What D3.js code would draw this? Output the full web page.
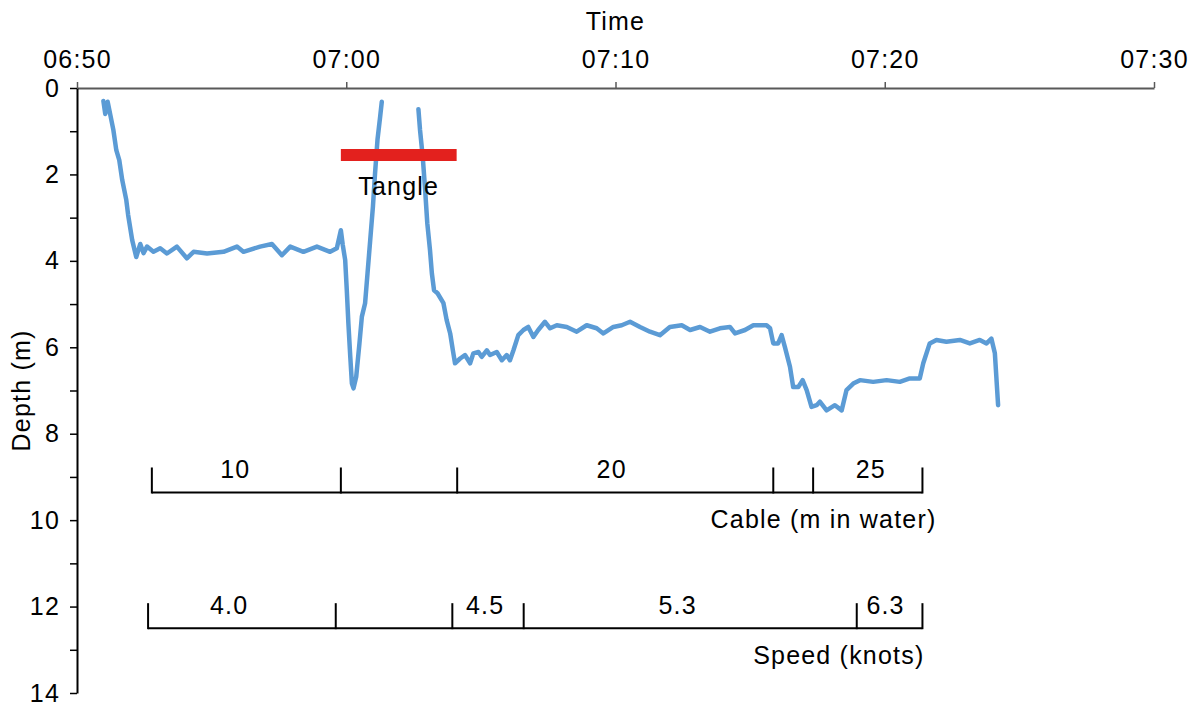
<!DOCTYPE html>
<html>
<head>
<meta charset="utf-8">
<script src="https://cdn.jsdelivr.net/npm/d3@7"></script>
<style>
  body { margin: 0; background: #fff; }
  text { font-family: "Liberation Sans", Arial, sans-serif; font-size: 25px; fill: #000; letter-spacing: 1.2px; }
</style>
</head>
<body>
<script>
// start of the record, all times below are minutes after this
const startTime = new Date(2020, 0, 1, 6, 50);
const timeTicks = [0, 10, 20, 30, 40];

// depth trace (minutes after 06:50, depth in m); null marks the gap at the surface
const traceMinutes = [
  0.98, 1.05, 1.14, 1.35, 1.46, 1.57, 1.68, 1.83, 1.90, 2.05, 2.20, 2.35, 2.47, 2.60, 2.84,
  3.09, 3.34, 3.71, 4.08, 4.33, 4.83, 5.44, 5.94, 6.18, 6.80, 7.24, 7.61, 7.92, 8.41, 8.91,
  9.40, 9.65, 9.80, 9.87, 9.96, 10.02, 10.08, 10.15, 10.21, 10.27, 10.37, 10.49, 10.58, 10.70,
  10.79, 10.89, 10.99, 11.07, 11.16, 11.26, 11.32, 12.0,
  12.68, 12.74, 12.84, 12.93, 13.01, 13.11, 13.18, 13.26, 13.39, 13.61, 13.73, 13.86, 13.96,
  14.04, 14.23, 14.41, 14.60, 14.72, 14.91, 15.03, 15.22, 15.34, 15.59, 15.78, 15.96, 16.08,
  16.21, 16.39, 16.58, 16.76, 16.95, 17.13, 17.38, 17.57, 17.82, 18.19, 18.56, 18.93, 19.30,
  19.55, 19.92, 20.23, 20.54, 20.91, 21.28, 21.65, 22.02, 22.46, 22.77, 23.14, 23.51, 23.88,
  24.25, 24.44, 24.81, 25.12, 25.61, 25.74, 25.86, 26.04, 26.17, 26.29, 26.48, 26.60, 26.79,
  26.95, 27.10, 27.28, 27.47, 27.59, 27.84, 28.15, 28.40, 28.58, 28.83, 29.08, 29.57, 30.07,
  30.56, 30.93, 31.30, 31.43, 31.67, 31.92, 32.29, 32.79, 33.16, 33.53, 33.78, 33.96, 34.09,
  34.21
];
const traceDepth = [
  0.30, 0.60, 0.32, 0.97, 1.44, 1.67, 2.13, 2.59, 2.94, 3.52, 3.91, 3.61, 3.82, 3.67, 3.79,
  3.71, 3.83, 3.67, 3.94, 3.79, 3.83, 3.79, 3.67, 3.79, 3.67, 3.61, 3.87, 3.67, 3.79, 3.67,
  3.79, 3.71, 3.29, 3.63, 3.98, 4.68, 5.45, 6.22, 6.84, 6.95, 6.68, 5.91, 5.29, 4.98,
  4.29, 3.52, 2.75, 1.97, 1.20, 0.66, 0.32, null,
  0.49, 0.97, 1.59, 2.36, 3.13, 3.75, 4.29, 4.68, 4.75, 4.98, 5.37, 5.68, 6.07,
  6.37, 6.26, 6.18, 6.37, 6.14, 6.11, 6.22, 6.07, 6.18, 6.11, 6.30, 6.18, 6.30,
  6.07, 5.72, 5.60, 5.53, 5.76, 5.60, 5.41, 5.56, 5.49, 5.53, 5.64, 5.49, 5.56,
  5.68, 5.53, 5.49, 5.41, 5.53, 5.64, 5.72, 5.53, 5.49, 5.60, 5.53, 5.64, 5.56,
  5.53, 5.68, 5.60, 5.49, 5.49, 5.56, 5.91, 5.91, 5.72, 5.99, 6.45, 6.92, 6.92,
  6.76, 6.99, 7.38, 7.34, 7.26, 7.46, 7.34, 7.46, 6.99, 6.84, 6.76, 6.80, 6.76,
  6.80, 6.72, 6.72, 6.37, 5.91, 5.83, 5.87, 5.83, 5.91, 5.83, 5.91, 5.80, 6.14,
  7.34
];

// tangle period
const tangleMinutes = [9.8, 14.1];
const tangleDepth = 1.55;
const tangleLabel = "Tangle";

// cable paid out (m in water)
const cableBreaks = [2.78, 9.80, 14.12, 25.86, 27.34, 31.40];
const cableLabels = ["10", "20", "25"];
const cableLabelMinutes = [5.88, 19.86, 29.48];
const cableDepth = 9.36;

// tow speed (knots)
const speedBreaks = [2.64, 9.61, 13.94, 16.59, 28.96, 31.40];
const speedLabels = ["4.0", "4.5", "5.3", "6.3"];
const speedLabelMinutes = [5.65, 15.16, 22.31, 30.03];
const speedDepth = 12.5;

const depthTicks = d3.range(0, 15, 1);

const toTime = m => new Date(startTime.getTime() + m * 60000);

const W = 1201, H = 706;
const margin = { top: 88, right: 47, bottom: 13, left: 77 };

const svg = d3.select("body").append("svg")
  .attr("width", W)
  .attr("height", H);

const x = d3.scaleTime()
  .domain([toTime(0), toTime(40)])
  .range([margin.left, W - margin.right]);

const y = d3.scaleLinear()
  .domain([0, 14])
  .range([margin.top, H - margin.bottom]);

// top time axis
const xAxis = svg.append("g")
  .attr("transform", `translate(0,${margin.top})`)
  .call(d3.axisTop(x)
    .tickValues(timeTicks.map(toTime))
    .tickFormat(d3.timeFormat("%H:%M"))
    .tickSize(6)
    .tickSizeOuter(0)
    .tickPadding(14));
xAxis.select(".domain").attr("stroke", "#595959").attr("stroke-width", 2);
xAxis.selectAll(".tick line").attr("stroke", "#595959").attr("stroke-width", 1.5);
xAxis.selectAll(".tick text").attr("font-size", null).attr("font-family", null).attr("fill", "#000");

// left depth axis, labels on even metres only
const yAxis = svg.append("g")
  .attr("transform", `translate(${margin.left},0)`)
  .call(d3.axisLeft(y)
    .tickValues(depthTicks)
    .tickFormat(d => d % 2 === 0 ? d : "")
    .tickSize(7)
    .tickSizeOuter(0)
    .tickPadding(10));
yAxis.select(".domain").attr("stroke", "#000").attr("stroke-width", 2);
yAxis.selectAll(".tick line").attr("stroke", "#000").attr("stroke-width", 1.5);
yAxis.selectAll(".tick text").attr("font-size", null).attr("font-family", null).attr("fill", "#000");

// axis titles
svg.append("text")
  .attr("x", (margin.left + W - margin.right) / 2)
  .attr("y", 30)
  .attr("text-anchor", "middle")
  .text("Time");

svg.append("text")
  .attr("transform", `translate(30,${y(7.0)}) rotate(-90)`)
  .attr("text-anchor", "middle")
  .text("Depth (m)");

// depth trace
const line = d3.line()
  .defined((d, i) => traceDepth[i] !== null)
  .x((d, i) => x(toTime(traceMinutes[i])))
  .y((d, i) => y(traceDepth[i]));

svg.append("path")
  .attr("d", line(traceMinutes))
  .attr("fill", "none")
  .attr("stroke", "#5b9bd5")
  .attr("stroke-width", 4.5)
  .attr("stroke-linejoin", "round")
  .attr("stroke-linecap", "round");

// tangle bar
svg.append("line")
  .attr("x1", x(toTime(tangleMinutes[0])))
  .attr("x2", x(toTime(tangleMinutes[1])))
  .attr("y1", y(tangleDepth))
  .attr("y2", y(tangleDepth))
  .attr("stroke", "#e3211e")
  .attr("stroke-width", 12);

svg.append("text")
  .attr("x", x(toTime((tangleMinutes[0] + tangleMinutes[1]) / 2)))
  .attr("y", y(tangleDepth) + 40)
  .attr("text-anchor", "middle")
  .text(tangleLabel);

// bracket rows for cable and speed
function bracket(breaks, depth, labels, labelMinutes, caption, captionShift) {
  const g = svg.append("g");
  const yy = y(depth);
  g.append("line")
    .attr("x1", x(toTime(breaks[0])))
    .attr("x2", x(toTime(breaks[breaks.length - 1])))
    .attr("y1", yy).attr("y2", yy)
    .attr("stroke", "#000").attr("stroke-width", 2);
  g.selectAll(".brk")
    .data(breaks)
    .enter().append("line")
    .attr("x1", d => x(toTime(d)))
    .attr("x2", d => x(toTime(d)))
    .attr("y1", yy - 25).attr("y2", yy + 1)
    .attr("stroke", "#000").attr("stroke-width", 2);
  g.selectAll(".lbl")
    .data(labels)
    .enter().append("text")
    .attr("x", (d, i) => x(toTime(labelMinutes[i])))
    .attr("y", yy - 14)
    .attr("text-anchor", "middle")
    .text(d => d);
  g.append("text")
    .attr("x", x(toTime(breaks[breaks.length - 1])) + captionShift)
    .attr("y", yy + 36)
    .attr("text-anchor", "end")
    .text(caption);
}

bracket(cableBreaks, cableDepth, cableLabels, cableLabelMinutes, "Cable (m in water)", 14);
bracket(speedBreaks, speedDepth, speedLabels, speedLabelMinutes, "Speed (knots)", 2);
</script>
</body>
</html>
